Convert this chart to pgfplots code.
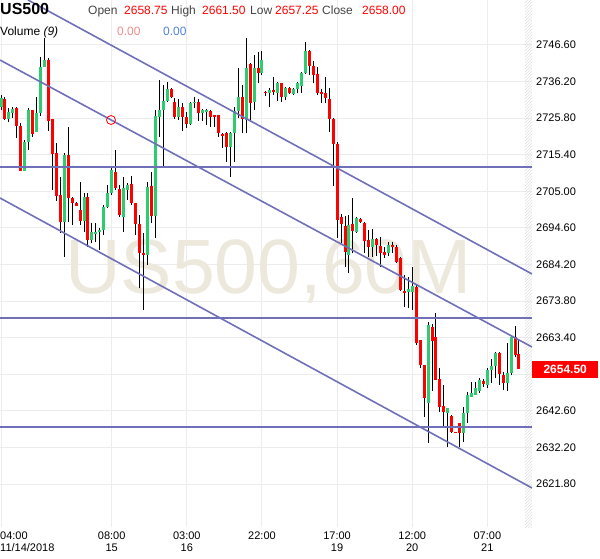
\documentclass[border=0pt]{standalone}
\usepackage{fontspec}
\setmainfont{Liberation Sans}
\usepackage{pgfplots}
\pgfplotsset{compat=1.18}
\usepackage{pgfplotstable}
\usetikzlibrary{patterns}
\definecolor{cgreen}{RGB}{46,204,113}
\definecolor{cred}{RGB}{255,0,0}
\definecolor{tline}{RGB}{112,112,184}
\definecolor{wm}{RGB}{237,232,220}
\definecolor{gridc}{RGB}{236,236,236}
\definecolor{salmon}{RGB}{240,140,140}
\definecolor{vblue}{RGB}{80,130,220}
\definecolor{lblgray}{RGB}{68,68,68}

\pgfplotstableread{
i o h l c
1 2729.1 2732.4 2728.1 2731.5
2 2731.3 2731.9 2725.3 2725.6
3 2725.6 2728.6 2724.6 2727.6
4 2727.4 2729.1 2725.9 2728.4
5 2728.8 2729.1 2720.3 2723.7
6 2723.6 2724.3 2710.8 2710.8
7 2710.8 2719.6 2710.8 2719.1
8 2718.9 2728.6 2716.8 2728.1
9 2728.1 2728.1 2720.5 2721.2
10 2721.8 2731.9 2721.8 2727.2
11 2727.2 2743.3 2726.5 2740.4
12 2740.4 2748.6 2740.4 2742.3
13 2742.3 2742.8 2722.2 2725.0
14 2725.6 2725.6 2705.4 2715.7
15 2715.8 2718.7 2702.3 2703.8
16 2704.0 2709.2 2693.1 2696.4
17 2696.4 2715.8 2686.4 2715.3
18 2715.3 2723.4 2696.4 2703.2
19 2703.0 2703.5 2695.4 2701.6
20 2701.7 2701.9 2700.9 2700.9
21 2699.7 2707.7 2695.4 2696.6
22 2696.6 2704.4 2693.5 2703.5
23 2703.5 2704.4 2689.3 2691.2
24 2691.2 2695.9 2690.2 2693.4
25 2692.9 2695.9 2690.7 2693.4
26 2693.4 2694.5 2688.3 2694.0
27 2694.0 2701.1 2692.6 2700.6
28 2700.5 2706.8 2700.2 2704.4
29 2704.4 2711.6 2704.0 2711.1
30 2710.6 2716.8 2705.4 2705.9
31 2705.6 2706.8 2697.8 2698.3
32 2697.8 2709.2 2693.5 2705.9
33 2705.4 2707.3 2702.5 2706.8
34 2707.1 2709.4 2701.1 2701.6
35 2701.6 2701.6 2692.6 2695.6
36 2695.6 2698.3 2677.4 2687.6
37 2687.6 2693.1 2671.3 2686.9
38 2686.9 2707.7 2684.1 2706.3
39 2706.5 2710.6 2695.9 2698.1
40 2698.1 2728.1 2691.7 2726.4
41 2726.1 2736.7 2720.5 2728.1
42 2728.1 2735.2 2711.6 2730.8
43 2730.8 2736.2 2730.5 2734.0
44 2734.0 2734.3 2731.5 2731.9
45 2730.5 2731.5 2725.5 2726.2
46 2726.1 2731.2 2725.3 2729.1
47 2729.1 2730.0 2722.2 2726.1
48 2726.1 2727.6 2722.9 2724.1
49 2724.1 2730.5 2723.9 2730.2
50 2730.0 2731.7 2728.6 2730.5
51 2730.5 2731.2 2725.1 2727.2
52 2727.4 2728.3 2725.1 2728.1
53 2727.6 2728.3 2723.9 2728.1
54 2727.8 2728.1 2723.4 2726.2
55 2726.7 2726.7 2723.2 2726.2
56 2726.7 2726.7 2720.5 2721.5
57 2721.3 2721.5 2717.2 2720.7
58 2721.5 2722.0 2713.4 2717.7
59 2717.7 2722.0 2709.2 2721.5
60 2721.5 2729.1 2713.4 2727.9
61 2727.9 2740.0 2725.8 2731.7
62 2731.9 2735.2 2721.5 2725.5
63 2725.3 2748.5 2721.5 2740.0
64 2741.1 2741.4 2724.8 2730.2
65 2730.5 2743.8 2728.1 2740.0
66 2740.0 2744.7 2735.7 2738.6
67 2738.6 2745.0 2738.1 2742.3
68 2733.3 2733.5 2732.2 2732.9
69 2732.9 2734.3 2728.9 2733.8
70 2733.8 2737.4 2732.4 2733.3
71 2733.0 2736.2 2730.8 2735.7
72 2735.7 2735.9 2730.5 2731.9
73 2731.9 2734.8 2731.0 2734.3
74 2734.3 2734.6 2732.7 2732.9
75 2732.7 2734.3 2732.4 2734.0
76 2734.0 2736.2 2732.9 2735.7
77 2735.0 2739.0 2732.9 2738.7
78 2738.6 2747.5 2738.4 2745.0
79 2745.0 2745.2 2738.1 2740.6
80 2740.6 2742.1 2735.7 2738.1
81 2738.4 2740.4 2732.4 2732.9
82 2733.3 2734.0 2730.2 2732.7
83 2732.9 2737.4 2730.0 2731.5
84 2731.2 2734.3 2722.0 2725.5
85 2725.5 2725.8 2706.5 2718.5
86 2718.5 2719.1 2691.7 2696.9
87 2697.6 2698.6 2690.2 2695.7
88 2695.2 2698.0 2683.6 2687.8
89 2686.9 2698.3 2681.7 2695.4
90 2695.7 2703.0 2687.4 2693.8
91 2693.5 2697.8 2693.1 2697.3
92 2697.1 2697.3 2696.1 2696.4
93 2696.1 2696.4 2687.4 2691.0
94 2691.2 2694.0 2686.4 2689.3
95 2689.3 2694.2 2686.4 2691.4
96 2691.4 2691.7 2686.6 2689.8
97 2689.5 2692.1 2683.6 2687.4
98 2687.8 2689.3 2686.0 2686.9
99 2687.4 2690.7 2686.6 2689.8
100 2689.8 2690.7 2687.4 2689.1
101 2689.3 2689.8 2684.5 2685.0
102 2686.0 2686.4 2676.8 2677.0
103 2676.8 2681.2 2672.2 2676.2
104 2676.5 2680.7 2671.8 2677.2
105 2676.5 2683.6 2671.3 2678.1
106 2677.8 2678.4 2661.3 2661.9
107 2662.8 2662.8 2654.8 2655.6
108 2655.6 2655.6 2640.9 2646.3
109 2644.8 2667.9 2633.5 2667.0
110 2666.4 2667.3 2648.3 2662.5
111 2663.6 2670.4 2651.4 2651.4
112 2651.7 2654.8 2642.3 2643.7
113 2644.0 2650.0 2638.0 2642.3
114 2642.0 2643.4 2632.3 2643.4
115 2641.1 2641.4 2636.3 2636.6
116 2636.6 2636.7 2636.5 2636.5
117 2639.2 2639.2 2632.3 2636.3
118 2636.3 2643.7 2633.8 2642.0
119 2642.0 2648.0 2639.2 2647.1
120 2646.5 2650.8 2646.5 2647.7
121 2647.1 2650.8 2647.1 2649.1
122 2648.3 2651.9 2647.7 2651.4
123 2651.1 2651.7 2649.4 2650.2
124 2650.0 2654.8 2649.1 2654.2
125 2654.2 2657.3 2650.5 2655.4
126 2655.4 2659.3 2651.9 2659.1
127 2659.1 2659.3 2650.0 2653.1
128 2652.8 2653.7 2648.5 2650.5
129 2650.5 2661.9 2648.3 2653.4
130 2653.4 2664.2 2652.8 2663.6
131 2663.6 2666.7 2657.9 2658.5
132 2658.8 2662.8 2654.5 2654.5
}\candles

\newcommand\tf{\fontsize{11pt}{11.5pt}\selectfont}
\newcommand\hf{\fontsize{12pt}{14pt}\selectfont}

\begin{document}
\begin{tikzpicture}
\useasboundingbox (0pt,0pt) rectangle (600pt,558pt);
\begin{axis}[
  at={(0pt,31pt)}, anchor=south west,
  scale only axis, width=532pt, height=527pt,
  xmin=0.747, xmax=135.29, ymin=2609.59, ymax=2759.39,
  clip mode=individual,
  axis line style={draw=none},
  major tick length=0pt,
  grid=major, grid style={draw=gridc, line width=1pt},
  xtick={1,29,48,67,86,105,124},
  xticklabels={{},{08:00\\15},{03:00\\16},{22:00},{17:00\\19},{12:00\\20},{07:00\\21}},
  xticklabel style={align=center, font=\tf, inner sep=0pt, yshift=-5pt, text=black},
  ytick={2621.8,2632.2,2642.6,2653.0,2663.4,2673.8,2684.2,2694.6,2705.0,2715.4,2725.8,2736.2,2746.6},
  yticklabels={2621.80,2632.20,2642.60,{},2663.40,2673.80,2684.20,2694.60,2705.00,2715.40,2725.80,2736.20,2746.60},
  yticklabel pos=right,
  yticklabel style={anchor=west, inner sep=0pt, xshift=4pt, font=\tf, text=black},
]
\node[anchor=base west, inner sep=0pt, text=wm, font=\fontsize{77pt}{80pt}\selectfont] at (axis cs:17.19,2676.1) {US500,60M};
\fill[pattern=north east lines, pattern color=black!12] (axis cs:133.5,2609.59) rectangle (axis cs:135.29,2759.39);
% wicks
\addplot[draw=none, mark=none, forget plot, error bars/.cd, y dir=plus, y explicit, error mark=none,
  error bar style={draw=black, line width=1pt}]
  table[x=i, y=l, y error expr={\thisrow{h}-\thisrow{l}}] {\candles};
% green bodies
\addplot[draw=none, mark=none, forget plot,
  restrict expr to domain={\thisrow{c}-\thisrow{o}}{0:1000},
  error bars/.cd, y dir=plus, y explicit, error mark=none,
  error bar style={draw=cgreen, line width=3pt}]
  table[x=i, y expr={min(\thisrow{o},\thisrow{c})}, y error expr={abs(\thisrow{c}-\thisrow{o})}] {\candles};
% red bodies
\addplot[draw=none, mark=none, forget plot,
  restrict expr to domain={\thisrow{c}-\thisrow{o}}{-1000:-0.00001},
  error bars/.cd, y dir=plus, y explicit, error mark=none,
  error bar style={draw=cred, line width=3pt}]
  table[x=i, y expr={min(\thisrow{o},\thisrow{c})}, y error expr={abs(\thisrow{c}-\thisrow{o})}] {\candles};
% trend lines
\addplot[tline, line width=1.6pt, forget plot] coordinates {(7.83,2759.39) (135.29,2681.51)};
\addplot[tline, line width=1.6pt, forget plot] coordinates {(0.747,2742.33) (135.29,2660.76)};
\addplot[tline, line width=1.6pt, forget plot] coordinates {(0.747,2703.11) (135.29,2620.68)};
\addplot[tline, line width=2pt, forget plot] coordinates {(0.747,2712.06) (135.29,2712.06)};
\addplot[tline, line width=2pt, forget plot] coordinates {(0.747,2669.14) (135.29,2669.14)};
\addplot[tline, line width=2pt, forget plot] coordinates {(0.747,2638.10) (135.29,2638.10)};
\addplot[only marks, mark=o, mark size=4.5pt, draw=cred, mark options={line width=0.8pt}, forget plot] coordinates {(28.82,2725.28)};
\node[anchor=north west, inner sep=0pt, align=left, font=\tf, yshift=-5pt] at (axis cs:0.747,2609.59) {04:00\\11/14/2018};
\node[fill=cred, text=white, font=\hf\bfseries, anchor=west, minimum width=66pt, minimum height=17pt, inner sep=0pt] at (axis cs:135.29,2654.5) {2654.50};
\end{axis}
\node[anchor=base west, inner sep=0pt, font=\fontsize{16pt}{18pt}\selectfont\bfseries] at (0pt,543pt) {US500};
\node[anchor=base west, inner sep=0pt, font=\hf, text=lblgray] at (88pt,543.5pt) {Open};
\node[anchor=base west, inner sep=0pt, font=\hf, text=cred] at (124pt,543.5pt) {2658.75};
\node[anchor=base west, inner sep=0pt, font=\hf, text=lblgray] at (171pt,543.5pt) {High};
\node[anchor=base west, inner sep=0pt, font=\hf, text=cred] at (202pt,543.5pt) {2661.50};
\node[anchor=base west, inner sep=0pt, font=\hf, text=lblgray] at (250pt,543.5pt) {Low};
\node[anchor=base west, inner sep=0pt, font=\hf, text=cred] at (275pt,543.5pt) {2657.25};
\node[anchor=base west, inner sep=0pt, font=\hf, text=lblgray] at (322pt,543.5pt) {Close};
\node[anchor=base west, inner sep=0pt, font=\hf, text=cred] at (362pt,543.5pt) {2658.00};
\node[anchor=base west, inner sep=0pt, font=\hf] at (0pt,522pt) {Volume \textit{(9)}};
\node[anchor=base west, inner sep=0pt, font=\hf, text=salmon] at (117pt,522pt) {0.00};
\node[anchor=base west, inner sep=0pt, font=\hf, text=vblue] at (163pt,522pt) {0.00};
\end{tikzpicture}
\end{document}
